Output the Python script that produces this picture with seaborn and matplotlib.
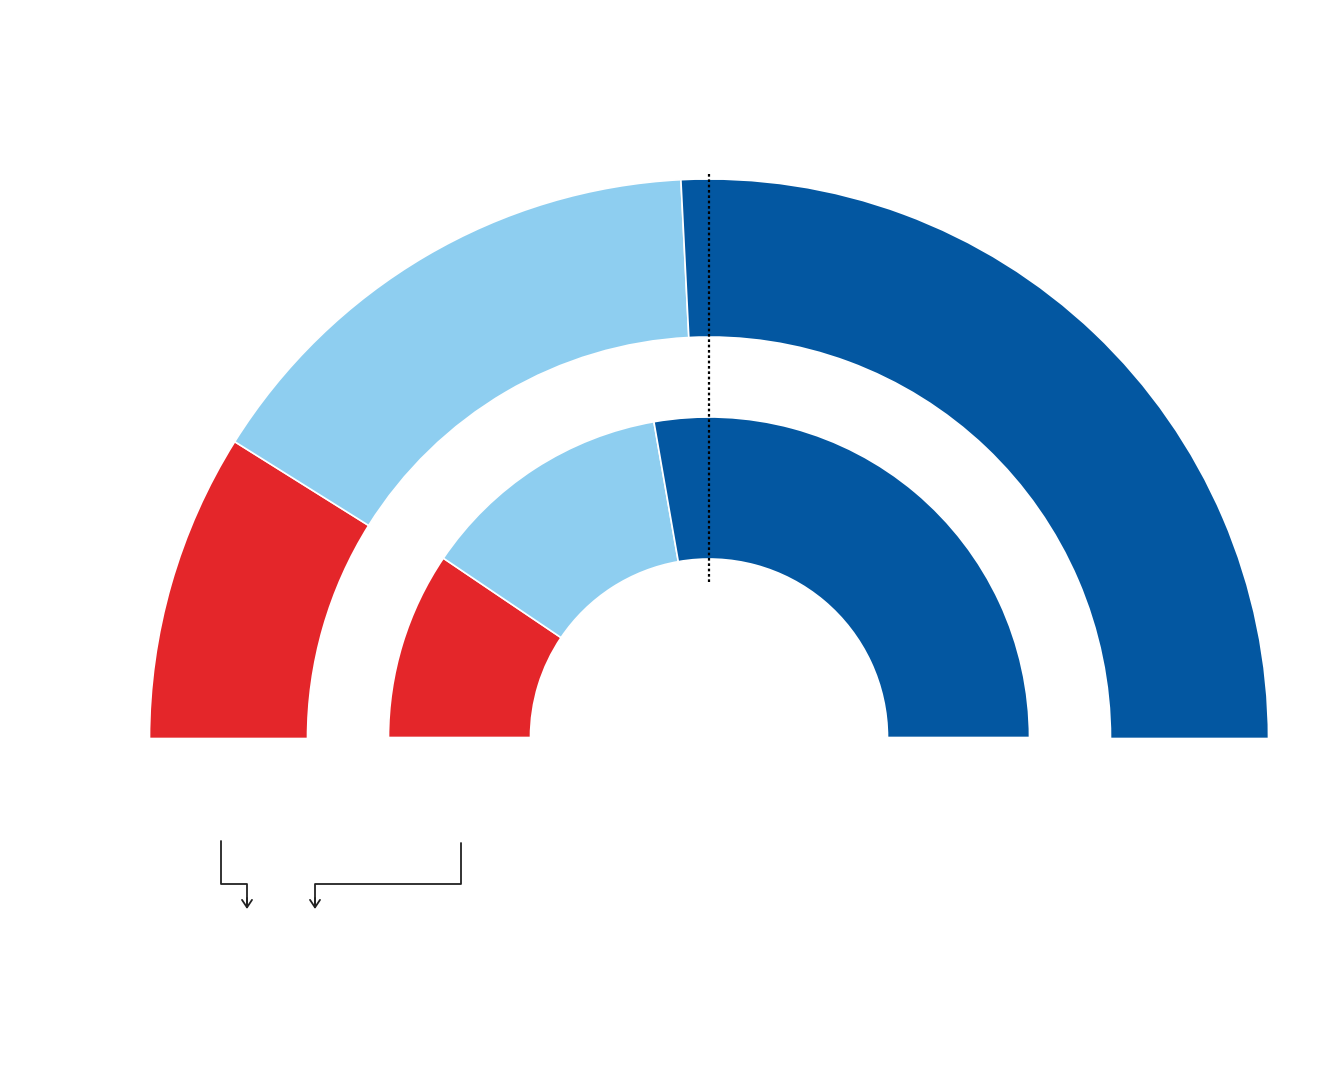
import matplotlib
matplotlib.use("Agg")
import matplotlib.pyplot as plt
import seaborn as sns

# shares in percent (left to right)
parties = ["Red", "Light blue", "Dark blue"]
outer_share = [17.8, 30.6, 51.6]
inner_share = [18.9, 25.6, 55.5]
colors = ["#E4262A", "#8ECEF0", "#0357A1"]

sns.set_theme(style="white")

fig = plt.figure(figsize=(13.2, 10.8), dpi=100)
ax = fig.add_axes([0, 0, 1, 1])
ax.set_xlim(0, 1320)
ax.set_ylim(0, 1080)
ax.set_aspect("equal")
ax.axis("off")

cx, cy = 709, 341.5

# half donuts: values are share of a full circle (so 100% = half turn)
ax.pie([v / 200 for v in outer_share], colors=colors, radius=559.5, center=(cx, cy),
       startangle=180, counterclock=False, normalize=False,
       wedgeprops=dict(width=158, edgecolor="white", linewidth=1.2))
ax.pie([v / 200 for v in inner_share], colors=colors, radius=320.5, center=(cx, cy + 1),
       startangle=180, counterclock=False, normalize=False,
       wedgeprops=dict(width=142, edgecolor="white", linewidth=1.2))
ax.set_xlim(0, 1320)
ax.set_ylim(0, 1080)

# 50% marker
ax.plot([cx, cx], [1080 - 582, 1080 - 173], color="black", linestyle=(0, (1.2, 1.2)), linewidth=1.6)

# connector arrows below the chart
line_kw = dict(color="#222222", linewidth=1.3)
ax.plot([221, 221, 247, 247], [1080 - 841, 1080 - 884, 1080 - 884, 1080 - 905], **line_kw)
ax.plot([461, 461, 315, 315], [1080 - 843, 1080 - 884, 1080 - 884, 1080 - 905], **line_kw)
for x in (247, 315):
    ax.annotate("", xy=(x, 1080 - 909), xytext=(x, 1080 - 898),
                arrowprops=dict(arrowstyle="->,head_length=0.45,head_width=0.3",
                                color="#222222", lw=1.3, shrinkA=0, shrinkB=0))

fig.savefig("out.png", dpi=100, facecolor="white")
